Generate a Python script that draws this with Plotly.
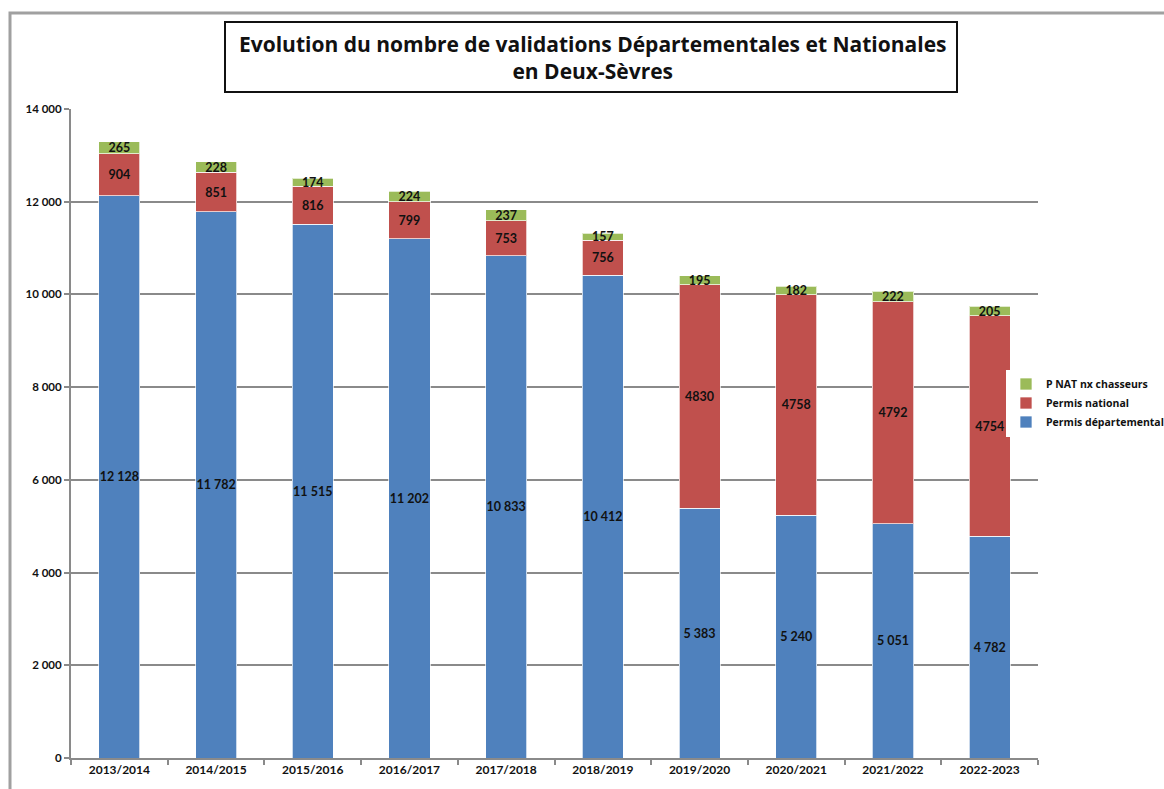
import plotly.graph_objects as go

categories = ["2013/2014", "2014/2015", "2015/2016", "2016/2017", "2017/2018",
              "2018/2019", "2019/2020", "2020/2021", "2021/2022", "2022-2023"]
permis_departemental = [12128, 11782, 11515, 11202, 10833, 10412, 5383, 5240, 5051, 4782]
permis_national = [904, 851, 816, 799, 753, 756, 4830, 4758, 4792, 4754]
p_nat_nx_chasseurs = [265, 228, 174, 224, 237, 157, 195, 182, 222, 205]
y_ticks = [0, 2000, 4000, 6000, 8000, 10000, 12000, 14000]

W, H = 1164, 789
ML, MR, MT, MB = 71, 126, 109, 31
PW = W - ML - MR
PH = H - MT - MB


def px_x(x):
    return (x - ML) / PW


def px_y(y):
    return (H - MB - y) / PH


BLUE = "#4F81BD"
RED = "#C0504D"
GREEN = "#9BBB59"
GRID = "#8a8a8a"
FONT = "Lato"

lab_font = dict(family=FONT, size=12.5, color="#111111", weight="bold")
edge = dict(color="rgba(255,255,255,0.7)", width=1)

fig = go.Figure()
fig.add_trace(go.Bar(
    x=categories, y=permis_departemental, name="Permis départemental",
    marker=dict(color=BLUE, line=edge),
    texttemplate="%{y:,d}", textposition="inside", insidetextanchor="middle",
    textangle=0, textfont=lab_font, hoverinfo="skip"))
fig.add_trace(go.Bar(
    x=categories, y=permis_national, name="Permis national",
    marker=dict(color=RED, line=edge),
    text=[str(v) for v in permis_national], texttemplate="%{text}",
    textposition="inside", insidetextanchor="middle",
    textangle=0, textfont=lab_font, hoverinfo="skip"))
fig.add_trace(go.Bar(
    x=categories, y=p_nat_nx_chasseurs, name="P NAT nx chasseurs",
    marker=dict(color=GREEN, line=edge),
    text=[str(v) for v in p_nat_nx_chasseurs], texttemplate="%{text}",
    textposition="inside", insidetextanchor="middle",
    textangle=0, textfont=lab_font, hoverinfo="skip"))

fig.update_layout(
    width=W, height=H,
    margin=dict(l=ML, r=MR, t=MT, b=MB, pad=0, autoexpand=False),
    paper_bgcolor="white", plot_bgcolor="white",
    barmode="stack", bargap=0.575,
    separators=", ",
    uniformtext=dict(minsize=12, mode="show"),
    font=dict(family=FONT, color="#111111"),
    legend=dict(
        x=px_x(1006), y=px_y(403), xanchor="left", yanchor="middle",
        bgcolor="white", traceorder="reversed",
        font=dict(family="Open Sans", size=10.5, color="#111111", weight="bold"),
        itemwidth=30, tracegroupgap=0,
    ),
    xaxis=dict(
        showline=True, linecolor=GRID, linewidth=2,
        ticks="outside", tickson="boundaries", ticklen=5, tickcolor=GRID, tickwidth=2,
        tickfont=dict(family=FONT, size=12, color="#111111", weight="bold"),
        showgrid=False, fixedrange=True,
    ),
    yaxis=dict(
        range=[0, 14000], tickvals=y_ticks, tickformat=",d",
        showline=True, linecolor=GRID, linewidth=2,
        ticks="outside", ticklen=5, tickcolor=GRID, tickwidth=2,
        tickfont=dict(family=FONT, size=11.5, color="#111111", weight="bold"),
        showgrid=True, gridcolor=GRID, gridwidth=2,
        zeroline=False, fixedrange=True,
    ),
    shapes=[
        dict(type="rect", xref="paper", yref="paper",
             x0=px_x(10), x1=px_x(W + 20), y0=px_y(H + 20), y1=px_y(13),
             line=dict(color="#a0a0a0", width=3), fillcolor="rgba(0,0,0,0)", layer="below"),
        dict(type="rect", xref="paper", yref="paper",
             x0=px_x(225), x1=px_x(957), y0=px_y(92), y1=px_y(22),
             line=dict(color="#111111", width=2), fillcolor="white"),
    ],
    annotations=[
        dict(xref="paper", yref="paper", x=px_x(592), y=px_y(58),
             xanchor="center", yanchor="middle", showarrow=False,
             text="Evolution du nombre de validations Départementales et Nationales<br>en Deux-Sèvres",
             font=dict(family="Open Sans", size=21, color="#111111", weight="bold")),
    ],
)

fig.write_html("out.html", config={"displayModeBar": False},
               post_script="document.body.style.margin='0px';")
